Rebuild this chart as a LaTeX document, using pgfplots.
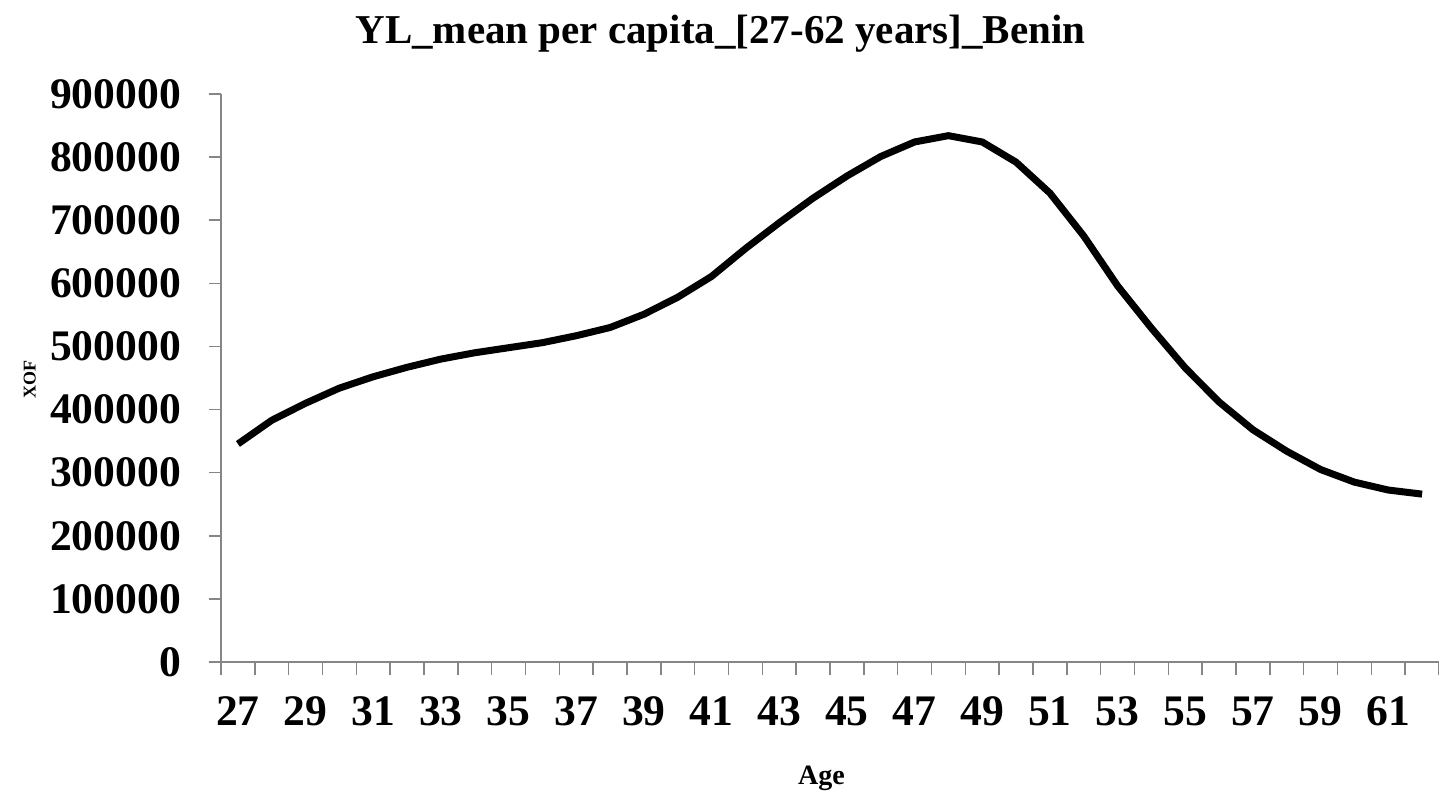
\documentclass[border=0pt]{standalone}
\usepackage{fontspec}
\setmainfont{Liberation Serif}
\usepackage{pgfplots}
\pgfplotsset{compat=1.18}
\definecolor{axgrey}{HTML}{868686}
\begin{document}
\begin{tikzpicture}
\begin{axis}[
  scale only axis,
  width=609pt, height=284pt,
  xmin=26.5, xmax=62.5,
  ymin=0, ymax=900000,
  axis lines*=left,
  axis line style={axgrey, line width=0.8pt},
  every tick/.style={axgrey, line width=0.8pt},
  tick align=outside,
  xtick={27,29,...,61},
  major x tick style={draw=none},
  minor xtick={26.5,27.5,...,62.5},
  minor tick length=6.5pt,
  ytick={0,100000,...,900000},
  major tick length=6pt,
  scaled y ticks=false,
  /pgf/number format/assume math mode=true,
  yticklabel={\pgfmathprintnumber[fixed,precision=0,1000 sep={}]{\tick}},
  ticklabel style={font=\fontsize{21.8}{24}\selectfont\bfseries},
  yticklabel style={xshift=-10.5pt},
  xticklabel style={yshift=-8pt},
  every axis title shift=0pt,
  title={YL\_mean per capita\_[27-62 years]\_Benin},
  title style={font=\fontsize{20.5}{23}\selectfont\bfseries, at={(axis description cs:0.41,1.107)}, anchor=center},
  xlabel={Age},
  xlabel style={font=\fontsize{14}{16}\selectfont\bfseries, at={(axis description cs:0.493,-0.204)}, anchor=center},
  ylabel={XOF},
  ylabel style={font=\fontsize{9}{11}\selectfont\bfseries, at={(axis description cs:-0.157,0.497)}, anchor=center, rotate=0},
  clip=false,
]
\addplot[black, line width=3.5pt, line join=round, no markers] coordinates {
(27,345500) (28,383000) (29,410000) (30,434000) (31,452000) (32,467000)
(33,480000) (34,490000) (35,498000) (36,506000) (37,517000) (38,530000)
(39,551000) (40,578000) (41,611000) (42,655000) (43,696000) (44,735000)
(45,770000) (46,801000) (47,824000) (48,834000) (49,824000) (50,792000)
(51,743000) (52,675000) (53,596000) (54,529000) (55,466000) (56,412000)
(57,368000) (58,334000) (59,305000) (60,285000) (61,272500) (62,266000)
};
\coordinate (o) at (axis cs:26.5,0);
\end{axis}
\pgfresetboundingbox
\path ([shift={(-110.5pt,-66pt)}]o) rectangle ([shift={(609pt,331pt)}]o);
\end{tikzpicture}
\end{document}
